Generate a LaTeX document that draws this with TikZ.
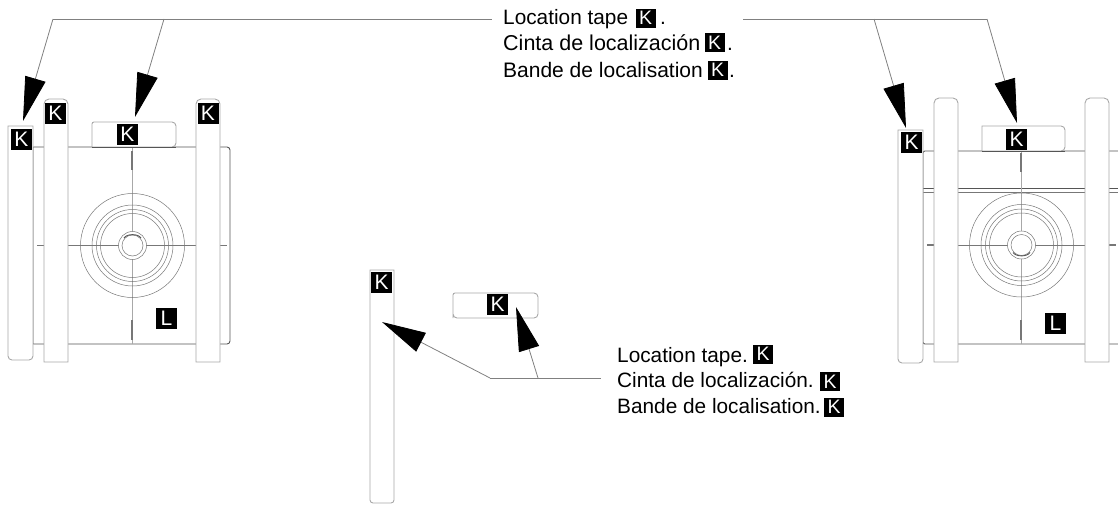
\documentclass[tikz,border=0pt]{standalone}
\usepackage{fontspec}
\setmainfont{Liberation Sans}
\usetikzlibrary{arrows.meta}
\definecolor{tapeline}{HTML}{A8A8A8}
\definecolor{bodyline}{HTML}{555555}
\definecolor{thinline}{HTML}{777777}
\definecolor{leaderline}{HTML}{808080}
\tikzset{
  tape/.style={draw=tapeline,line width=0.9pt,fill=white},
  bodyedge/.style={draw=bodyline,line width=0.9pt},
  centre/.style={draw=tapeline,line width=0.7pt},
  ring/.style={draw=thinline,line width=0.5pt},
  tick/.style={draw=thinline,line width=2pt},
  leader/.style={draw=leaderline,line width=0.8pt},
  pointer/.style={leader,-{Triangle[length=44pt,width=21pt,fill=black,color=black]}},
  badge/.style={fill=black,text=white,inner sep=0pt,minimum width=21pt,minimum height=21pt,font=\fontsize{21}{21}\selectfont},
  smallbadge/.style={badge,minimum width=20pt,minimum height=19pt,font=\fontsize{19.5}{20}\selectfont},
  caption/.style={anchor=base west,inner sep=0pt,text=black,font=\fontsize{20.8}{24}\selectfont},
}
\begin{document}
\begin{tikzpicture}[x=1pt,y=-1pt]
\useasboundingbox (0,0) rectangle (1118,506);
% ---------- left assembly ----------
\draw[bodyedge] (33,147) [rounded corners=3pt] -- (230,147) -- (230,344) [sharp corners] -- (33,344) -- cycle;
\draw[centre] (132,147) -- (132,344);
\draw[ring] (68,245.5) -- (196,245.5);
\foreach \r in {52,40.5,36,32} \draw[ring] (132.5,245.5) circle (\r);
\draw[ring,fill=white] (132.5,245.5) circle (14);
\draw[ring] (132.5,245.5) circle (10.5);
\draw[bodyedge] (124,238) .. controls (127,233.5) and (138,233.5) .. (141,238);
\draw[tick] (132,151) -- (132,170);
\draw[tick] (132,320) -- (132,340);
\draw[tick,line width=1.6pt] (37,245.5) -- (44,245.5);
\draw[tick,line width=1.6pt] (220,245.5) -- (227,245.5);
\draw[tape] (8,126) -- (33,126) [rounded corners=4pt] -- (33,360) -- (8,360) [sharp corners] -- cycle;
\draw[tape] (44,362) [rounded corners=5pt] -- (44,99) -- (68,99) [sharp corners] -- (68,362) -- cycle;
\draw[tape] (196,362) [rounded corners=5pt] -- (196,99) -- (220,99) [sharp corners] -- (220,362) -- cycle;
\draw[tape] (92,147) [rounded corners=2pt] -- (92,122) [rounded corners=4pt] -- (176,122) -- (176,147) [sharp corners] -- cycle;
\draw[bodyedge] (92,147) -- (176,147);
\node[badge] (kA) at (21.5,139) {K};
\node[badge] (kB) at (55.5,113) {K};
\node[badge] (kC) at (208,113) {K};
\node[badge] (kD) at (127.5,134.5) {K};
\node[badge] (lA) at (166.5,318.5) {L};
% ---------- right assembly ----------
\draw[bodyedge,rounded corners=2pt] (1118,151) -- (923,151) -- (923,344) -- (1118,344);
\draw[bodyedge] (923,188) -- (1118,188);
\draw[ring] (923,192) -- (1118,192);
\draw[centre] (1021,151) -- (1021,344);
\draw[ring] (958,245) -- (1085,245);
\foreach \r in {52,40.5,36,32} \draw[ring] (1021.5,245) circle (\r);
\draw[ring,fill=white] (1021.5,245) circle (14);
\draw[ring] (1021.5,245) circle (10.5);
\draw[bodyedge] (1013,252.5) .. controls (1016,257) and (1027,257) .. (1030,252.5);
\draw[tick] (1021,153) -- (1021,172);
\draw[tick] (1021,320) -- (1021,340);
\draw[tick,line width=1.6pt] (927,245) -- (934,245);
\draw[tick,line width=1.6pt] (1109,245) -- (1116,245);
\draw[tape] (898,130) -- (923,130) [rounded corners=4pt] -- (923,363) -- (898,363) [sharp corners] -- cycle;
\draw[tape] (934,362) [rounded corners=5pt] -- (934,98) -- (958,98) [sharp corners] -- (958,362) -- cycle;
\draw[tape] (1085,362) [rounded corners=5pt] -- (1085,98) -- (1109,98) [sharp corners] -- (1109,362) -- cycle;
\draw[tape] (982,151) -- (982,126) [rounded corners=4pt] -- (1065,126) -- (1065,151) [sharp corners] -- cycle;
\draw[bodyedge] (982,151) -- (1065,151);
\node[badge] (kE) at (911.5,142) {K};
\node[badge] (kF) at (1016.5,139) {K};
\node[badge] (lB) at (1055.5,323.5) {L};
% ---------- loose tapes ----------
\draw[tape] (370,270) -- (394,270) [rounded corners=3pt] -- (394,503) -- (370,503) [sharp corners] -- cycle;
\draw[tape] (453,318) [rounded corners=2pt] -- (453,293) [rounded corners=4pt] -- (538,293) -- (538,318) -- (453,318) [sharp corners] -- cycle;
\node[badge] (kG) at (381.5,282.5) {K};
\node[badge] (kH) at (497.5,304.5) {K};
% ---------- captions ----------
\node[caption] (t1) at (503,24) {Location tape};
\node[smallbadge] (b1) at (645.5,18) {K};
\node[caption] at (660,24) (d1) {.};
\node[caption,font=\fontsize{21.5}{24}\selectfont] (t2) at (503,50) {Cinta de localización};
\node[smallbadge] (b2) at (714.5,42.5) {K};
\node[caption] at (727,50) (d2) {.};
\node[caption,font=\fontsize{21}{24}\selectfont] (t3) at (503,77) {Bande de localisation};
\node[smallbadge] (b3) at (717.5,70) {K};
\node[caption] at (729,77) (d3) {.};
\node[caption] (t4) at (617,362) {Location tape.};
\node[smallbadge] (b4) at (763,354) {K};
\node[caption] (t5) at (617,387) {Cinta de localización.};
\node[smallbadge] (b5) at (830,381.5) {K};
\node[caption] (t6) at (617,413) {Bande de localisation.};
\node[smallbadge] (b6) at (834,407) {K};
% ---------- leaders ----------
\coordinate (topL) at (53,19);
\coordinate (topM) at (164,19);
\coordinate (topEndL) at (492,19);
\coordinate (topStartR) at (743,19);
\coordinate (topN) at (874,19);
\coordinate (topR) at (987,19);
\coordinate (tipA) at (23,121);
\coordinate (tipB) at (135,117);
\coordinate (tipC) at (906,128);
\coordinate (tipD) at (1017,123);
\coordinate (lowL) at (490,378);
\coordinate (lowM) at (538,378);
\coordinate (lowEnd) at (601,378);
\coordinate (tipE) at (382,322);
\coordinate (tipF) at (516,307);
\draw[leader] (topL) -- (topEndL);
\draw[leader] (topStartR) -- (topR);
\draw[leader] (lowL) -- (lowEnd);
\draw[pointer] (topL) -- (tipA);
\draw[pointer] (topM) -- (tipB);
\draw[pointer] (topN) -- (tipC);
\draw[pointer] (topR) -- (tipD);
\draw[pointer] (lowL) -- (tipE);
\draw[pointer] (lowM) -- (tipF);
\end{tikzpicture}
\end{document}
